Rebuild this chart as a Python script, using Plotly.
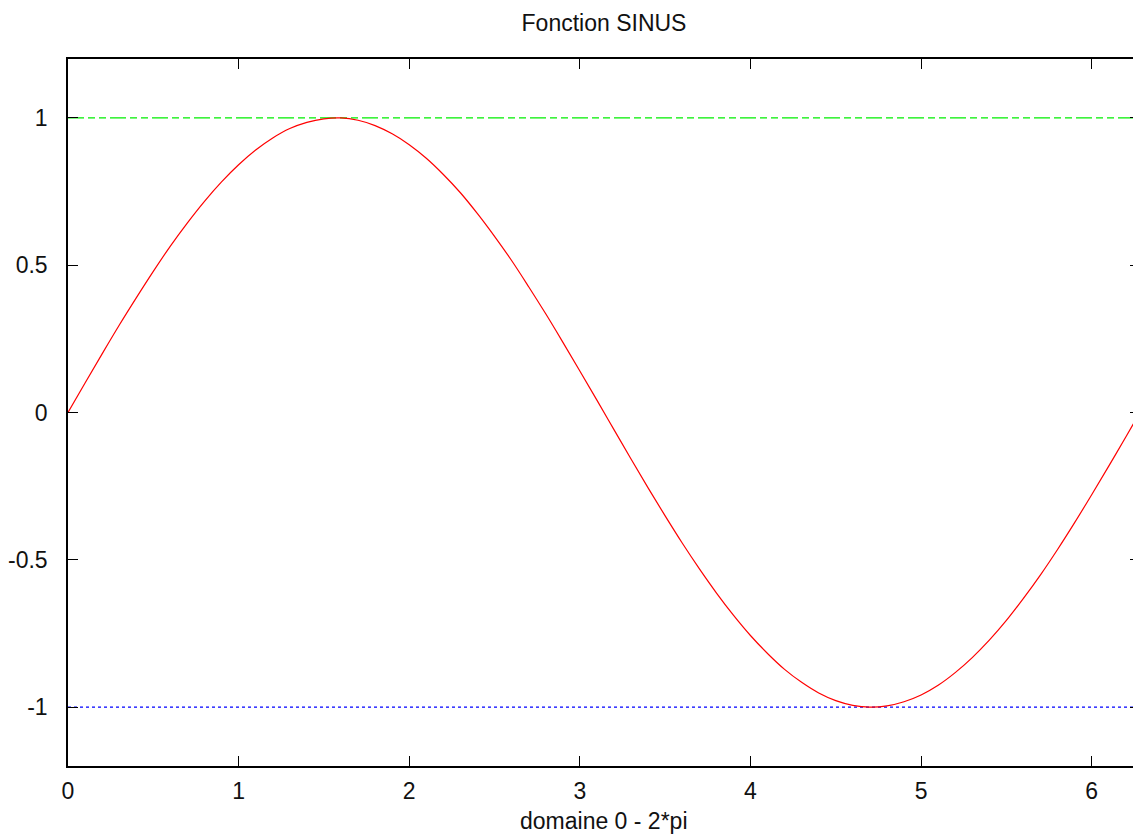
import plotly.graph_objects as go

# Data
x_vals = [0.0, 0.1, 0.2, 0.3, 0.4, 0.5, 0.6, 0.7, 0.8, 0.9,
          1.0, 1.1, 1.2, 1.3, 1.4, 1.5, 1.6, 1.7, 1.8, 1.9,
          2.0, 2.1, 2.2, 2.3, 2.4, 2.5, 2.6, 2.7, 2.8, 2.9,
          3.0, 3.1, 3.2, 3.3, 3.4, 3.5, 3.6, 3.7, 3.8, 3.9,
          4.0, 4.1, 4.2, 4.3, 4.4, 4.5, 4.6, 4.7, 4.8, 4.9,
          5.0, 5.1, 5.2, 5.3, 5.4, 5.5, 5.6, 5.7, 5.8, 5.9,
          6.0, 6.1, 6.2, 6.283]
sin_vals = [0.000, 0.100, 0.199, 0.296, 0.389, 0.479, 0.565, 0.644, 0.717, 0.783,
            0.841, 0.891, 0.932, 0.964, 0.985, 0.997, 1.000, 0.992, 0.974, 0.946,
            0.909, 0.863, 0.808, 0.746, 0.675, 0.598, 0.516, 0.427, 0.335, 0.239,
            0.141, 0.042, -0.058, -0.158, -0.256, -0.351, -0.443, -0.530, -0.612, -0.688,
            -0.757, -0.818, -0.872, -0.916, -0.952, -0.978, -0.994, -1.000, -0.996, -0.982,
            -0.959, -0.926, -0.883, -0.832, -0.773, -0.706, -0.631, -0.551, -0.465, -0.374,
            -0.279, -0.182, -0.083, 0.000]
upper_x = [0.0, 6.283]
upper_y = [1.0, 1.0]
lower_x = [0.0, 6.283]
lower_y = [-1.0, -1.0]

x_ticks = [0, 1, 2, 3, 4, 5, 6]
x_tick_labels = ["0", "1", "2", "3", "4", "5", "6"]
y_ticks = [-1, -0.5, 0, 0.5, 1]
y_tick_labels = ["-1", "-0.5", "0", "0.5", "1"]

FONT = "Liberation Sans, Arial, Helvetica, sans-serif"
FS = 23

fig = go.Figure()
fig.add_trace(go.Scatter(x=upper_x, y=upper_y, mode="lines",
                         line=dict(color="#00ee00", width=1.3, dash="16px,4px,7px,4px,7px,4px"),
                         hoverinfo="skip", showlegend=False))
fig.add_trace(go.Scatter(x=lower_x, y=lower_y, mode="lines",
                         line=dict(color="#0000ff", width=1.3, dash="3px,3px"),
                         hoverinfo="skip", showlegend=False))
fig.add_trace(go.Scatter(x=x_vals, y=sin_vals, mode="lines",
                         line=dict(color="#ff0000", width=1.2, shape="spline"),
                         showlegend=False))

axis_common = dict(
    showgrid=False, zeroline=False, showline=True, linecolor="#000000", linewidth=1.5,
    ticks="inside", ticklen=10, tickwidth=1.2, tickcolor="#000000", mirror="ticks",
    tickfont=dict(family=FONT, size=FS, color="#111111"),
)

fig.update_layout(
    width=1150, height=838,
    margin=dict(l=66, r=8, t=59, b=72),
    paper_bgcolor="white", plot_bgcolor="white",
    title=dict(text="Fonction SINUS", x=0.5, xref="paper", xanchor="center",
               y=1 - 23 / 838, yref="container", yanchor="middle",
               font=dict(family=FONT, size=FS, color="#111111")),
    xaxis=dict(range=[0, 6.2832], tickvals=x_ticks, ticktext=x_tick_labels,
               ticklabelstandoff=4, **axis_common),
    yaxis=dict(range=[-1.2, 1.2], tickvals=y_ticks, ticktext=y_tick_labels,
               ticklabelstandoff=14, **axis_common),
    font=dict(family=FONT, size=FS, color="#111111"),
    annotations=[dict(text="domaine 0 - 2*pi", x=0.5, xref="paper", xanchor="center",
                      y=-(821 - 766) / (838 - 59 - 72), yref="paper", yanchor="middle",
                      showarrow=False, font=dict(family=FONT, size=FS, color="#111111"))],
)

fig.write_html("out.html", config={"displayModeBar": False},
               post_script="document.body.style.margin='0';document.body.style.overflow='hidden';")
